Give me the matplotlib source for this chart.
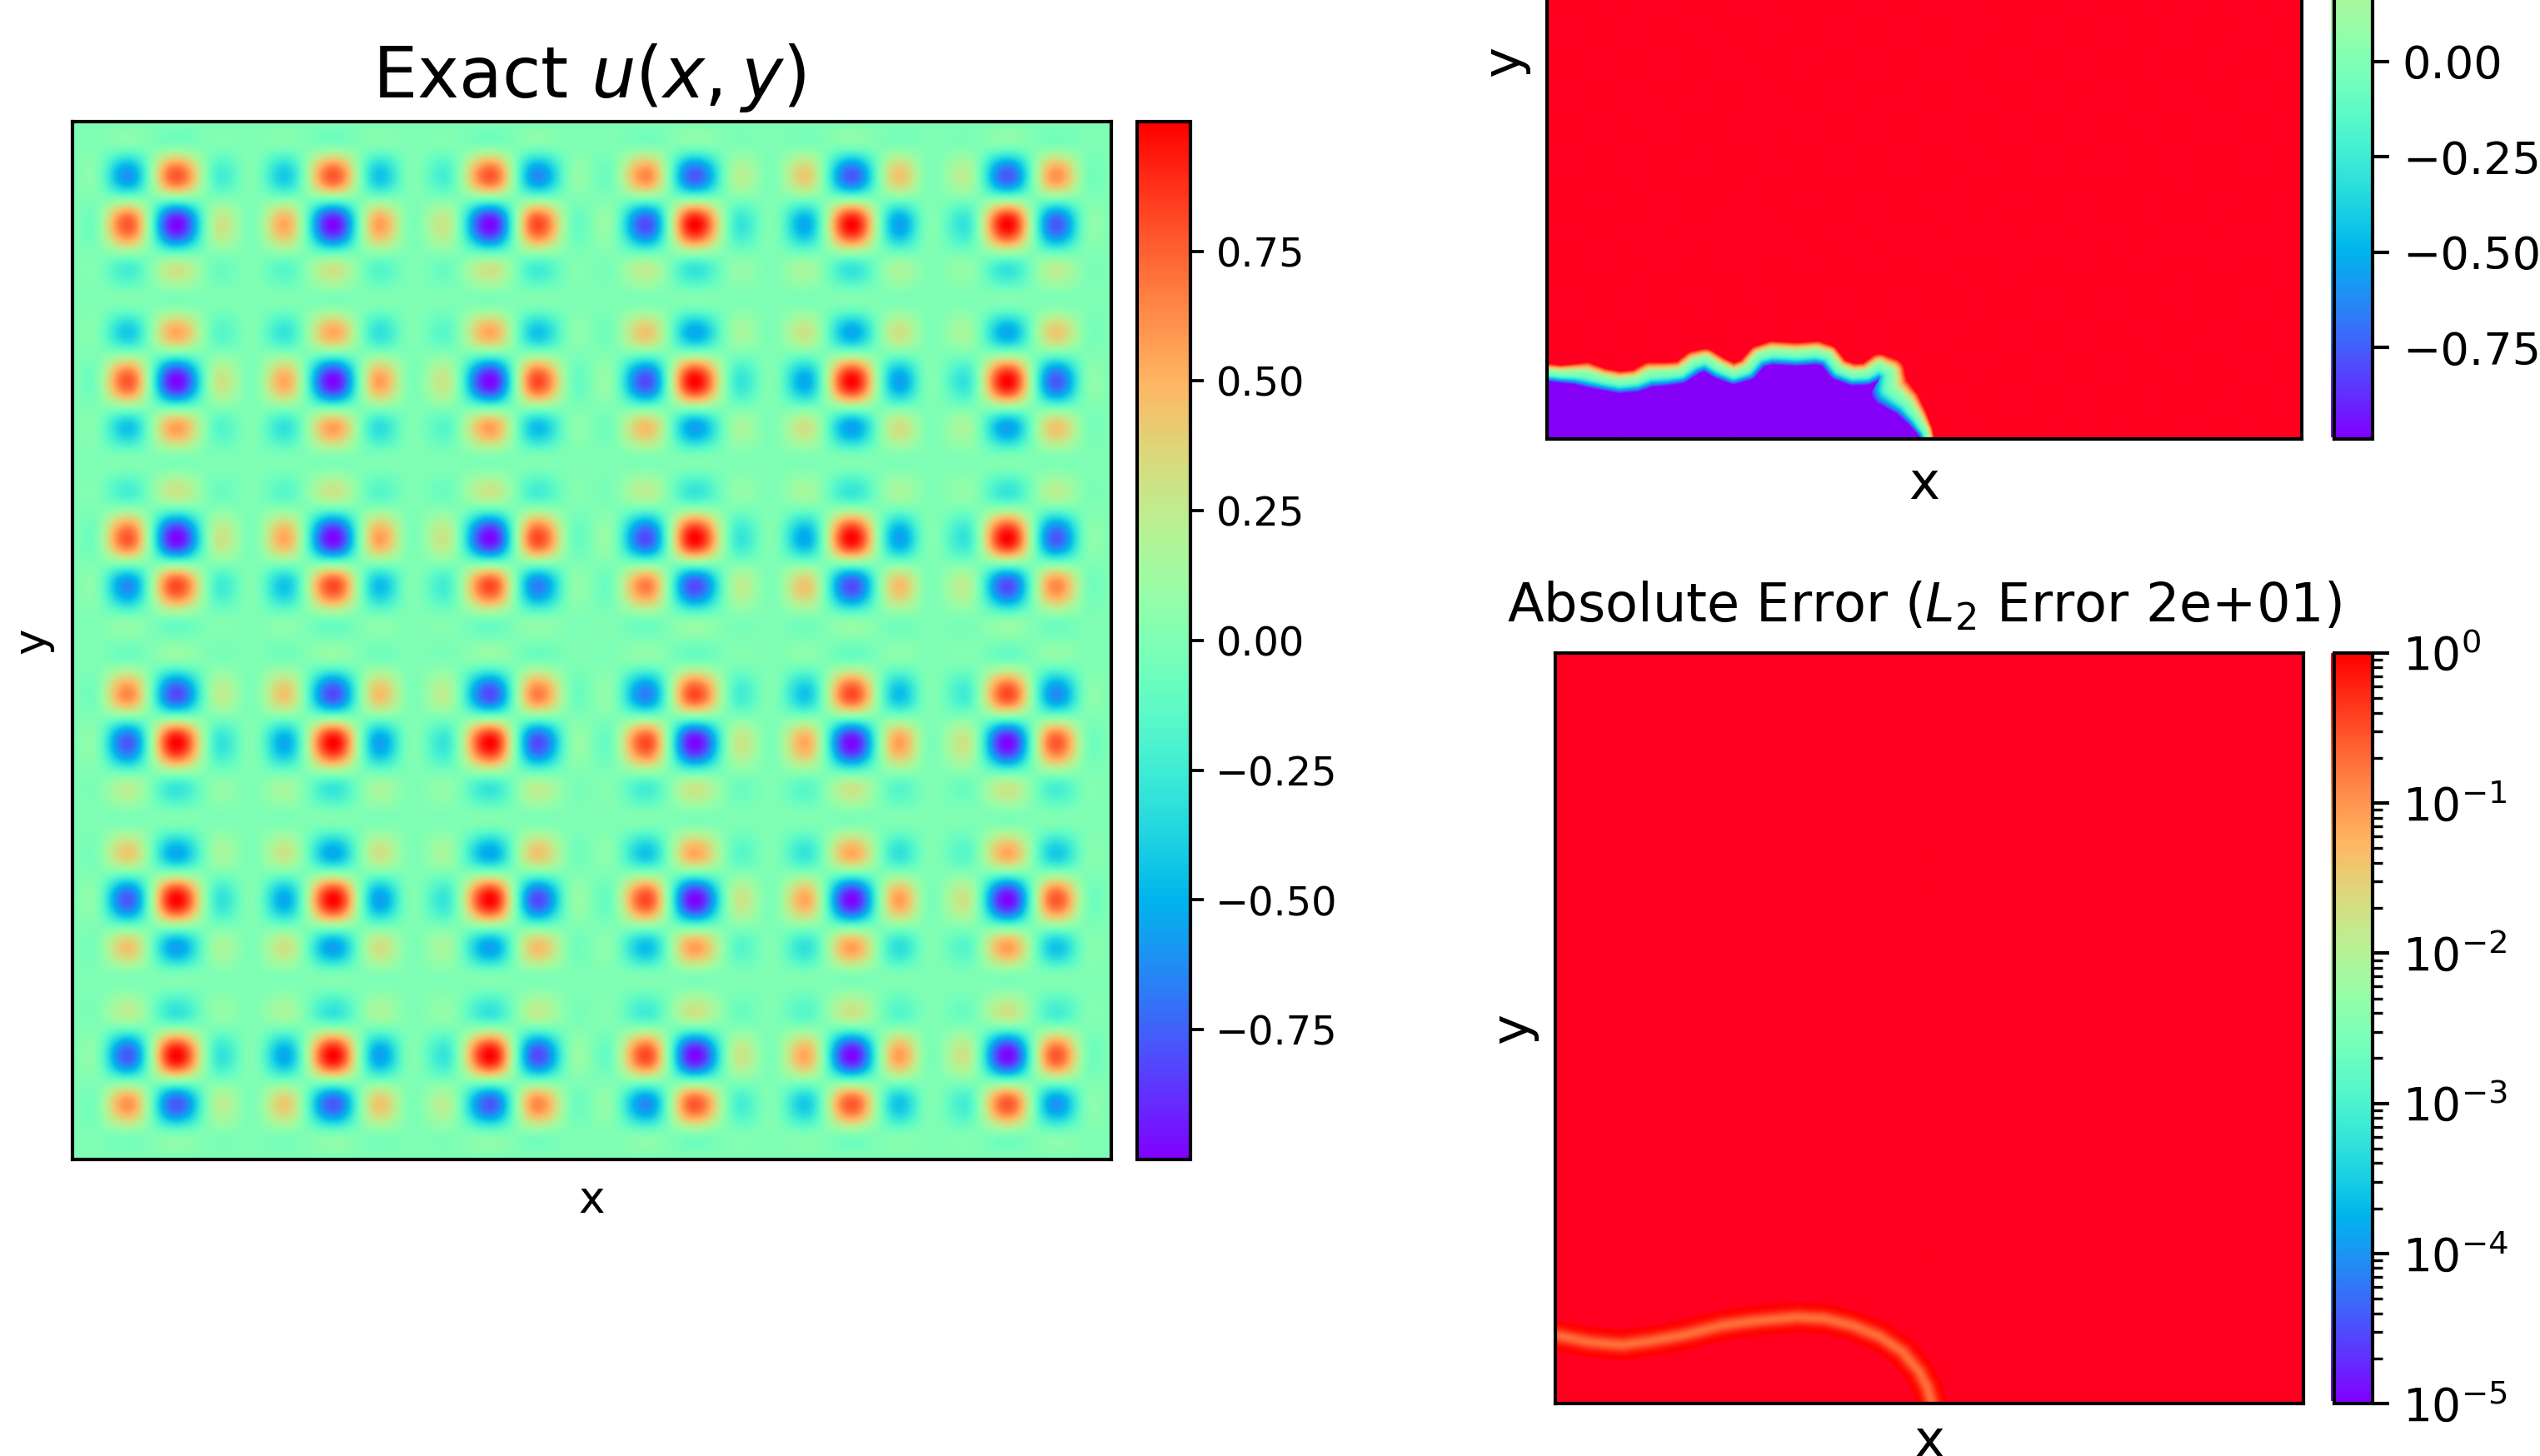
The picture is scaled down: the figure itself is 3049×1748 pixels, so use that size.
import numpy as np
import matplotlib
matplotlib.use("Agg")
import matplotlib.pyplot as plt
from matplotlib.colors import Normalize, LogNorm
from matplotlib.cm import ScalarMappable
from matplotlib.path import Path
from matplotlib.ticker import LogLocator, NullFormatter

plt.rcParams["axes.linewidth"] = 1.0

W, H, DPI = 3049, 1748, 300

# Peaks and troughs of the exact solution's profile across the square
lobe_pos = [0.0, .017, .053, .100, .144, .172, .204, .251, .296, .328, .357, .402, .448, .487,
            .513, .552, .599, .644, .672, .705, .750, .796, .827, .858, .900, .947, .983, 1.0]
lobe_amp = [0.0, -.07, .78, -1.0, .30, -.02, .54, -1.0, .57, -.02, .29, -1.0, .82, -.10,
            .10, -.82, 1.0, -.29, .02, -.54, 1.0, -.57, .02, -.30, 1.0, -.78, .07, 0.0]

# Prediction front (zero level) and its half-width, in panel coordinates
front_x = [0, .018, .037, .052, .074, .096, .118, .136, .158, .177, .195, .210, .228, .247, .265,
           .280, .298, .331, .357, .372, .386, .405, .423, .440, .454, .454, .475, .489, .500, .504]
front_y = [.088, .086, .086, .085, .079, .075, .077, .085, .086, .088, .101, .105, .094, .086, .092,
           .109, .114, .112, .114, .110, .092, .085, .086, .096, .088, .066, .048, .029, .011, 0]
front_w = [.012, .012, .014, .017, .015, .015, .015, .017, .016, .015, .016, .015, .015, .014, .015,
           .015, .016, .016, .016, .015, .015, .015, .015, .017, .020, .026, .020, .015, .011, .009]

# Ridge of lower error in panel coordinates
ridge_x = [0, .045, .089, .126, .171, .223, .267, .323, .360, .397, .434, .464, .486, .497, .503]
ridge_y = [.091, .082, .078, .083, .091, .104, .110, .115, .113, .104, .089, .069, .043, .022, .002]
ridge_floor = 10 ** -0.72

left_cbar_ticks = [-.75, -.5, -.25, 0, .25, .5, .75]
top_cbar_ticks = [-.75, -.5, -.25, 0]
top_limit = 0.99
error_title = r"Absolute Error ($L_2$ Error 2e+01)"
exact_title = r"Exact $u(x,y)$"


def rect(l, t, r, b):
    return [l / W, 1 - b / H, (r - l) / W, (b - t) / H]


def smooth_profile(t):
    pos, amp = np.array(lobe_pos), np.array(lobe_amp)
    i = np.clip(np.searchsorted(pos, t, side="right") - 1, 0, len(pos) - 2)
    s = (t - pos[i]) / (pos[i + 1] - pos[i])
    return amp[i] + (amp[i + 1] - amp[i]) * (1 - np.cos(np.pi * s)) / 2


def polyline_distance(X, Y, px, py, pw=None):
    best = np.full(X.shape, np.inf)
    width = np.ones(X.shape)
    for k in range(len(px) - 1):
        dx, dy = px[k + 1] - px[k], py[k + 1] - py[k]
        s = np.clip(((X - px[k]) * dx + (Y - py[k]) * dy) / (dx * dx + dy * dy), 0, 1)
        d2 = (X - px[k] - s * dx) ** 2 + (Y - py[k] - s * dy) ** 2
        closer = d2 < best
        best = np.where(closer, d2, best)
        if pw is not None:
            width = np.where(closer, pw[k] + s * (pw[k + 1] - pw[k]), width)
    return np.sqrt(best), width


def style_panel(ax, xpad, ypad, size):
    ax.set_xticks([])
    ax.set_yticks([])
    ax.set_xlabel("x", fontsize=size, labelpad=xpad)
    ax.set_ylabel("y", fontsize=size, labelpad=ypad)


def sliver(fig, l, t, r, b):
    ax = fig.add_axes(rect(l, t, r, b), zorder=-1)
    ax.imshow(np.linspace(1, 0, 256)[:, None], cmap="rainbow", aspect="auto")
    ax.axis("off")


fig = plt.figure(figsize=(W / DPI, H / DPI), dpi=DPI)

# ---------- exact solution ----------
t = (np.arange(640) + .5) / 640
f = smooth_profile(t)
exact = -np.outer(f, f)
ax = fig.add_axes(rect(87, 146, 1334, 1392))
ax.imshow(exact, cmap="rainbow", vmin=-1, vmax=1, extent=[0, 1, 0, 1], aspect="auto",
          origin="upper", interpolation="bilinear")
style_panel(ax, 5.5, 5.5, 12.8)
ax.set_title(exact_title, fontsize=20.3, pad=7, x=.497)
cax = fig.add_axes(rect(1365, 146, 1429, 1392))
cb = fig.colorbar(ScalarMappable(Normalize(-1, 1), "rainbow"), cax=cax, ticks=left_cbar_ticks)
cb.ax.tick_params(labelsize=11.5, length=3.9, width=.9, pad=3.4)

# ---------- prediction (top right, cut by the page) ----------
n = 900
gx = (np.arange(n) + .5) / n
X, Y = np.meshgrid(gx, gx)
d, w = polyline_distance(X, Y, front_x, front_y, front_w)
poly = Path(list(zip(front_x, front_y)) + [(0, 0), (0, front_y[0])])
inside = poly.contains_points(np.c_[X.ravel(), Y.ravel()]).reshape(X.shape)
ramp = np.clip(d / w, 0, 1.05) ** 1.5
pred = np.where(inside, -ramp, ramp) * top_limit
cmap_over = plt.get_cmap("rainbow").with_extremes(over="#ff0020", under="#8400f6")
ax = fig.add_axes(rect(1857, -379, 2763, 527))
ax.imshow(pred, cmap=cmap_over, vmin=-top_limit, vmax=top_limit, extent=[0, 1, 0, 1], origin="lower",
          aspect="auto", interpolation="bilinear")
style_panel(ax, 6, 5, 15)
sliver(fig, 2798, -379, 2803, 525)
cax = fig.add_axes(rect(2802, -379, 2848, 527))
cb = fig.colorbar(ScalarMappable(Normalize(-top_limit, top_limit), "rainbow"), cax=cax, ticks=top_cbar_ticks)
cb.ax.tick_params(labelsize=13, length=4.8, width=1.0, pad=3.8)

# ---------- absolute error ----------
d, _ = polyline_distance(X, Y, ridge_x, ridge_y)
err = 10 ** (np.log10(ridge_floor) * np.exp(-(d / .0095) ** 2)) * 1.02
ax = fig.add_axes(rect(1867, 784, 2765, 1685))
ax.imshow(err, cmap=cmap_over, norm=LogNorm(1e-5, 1), extent=[0, 1, 0, 1], origin="lower",
          aspect="auto", interpolation="bilinear")
style_panel(ax, 4, 5, 15)
ax.set_title(error_title, fontsize=15.3, pad=9, x=.4935)
sliver(fig, 2798, 784, 2803, 1682)
cax = fig.add_axes(rect(2802, 784, 2848, 1685))
cb = fig.colorbar(ScalarMappable(LogNorm(1e-5, 1), "rainbow"), cax=cax)
cb.ax.yaxis.set_major_locator(LogLocator(10))
cb.ax.yaxis.set_minor_locator(LogLocator(10, subs=np.arange(2, 10) * .1, numticks=12))
cb.ax.yaxis.set_minor_formatter(NullFormatter())
cb.ax.tick_params(which="major", labelsize=13.2, length=4.8, width=1.0, pad=3.8)
cb.ax.tick_params(which="minor", length=2.9, width=.8)

fig.savefig("out.png", dpi=DPI)
